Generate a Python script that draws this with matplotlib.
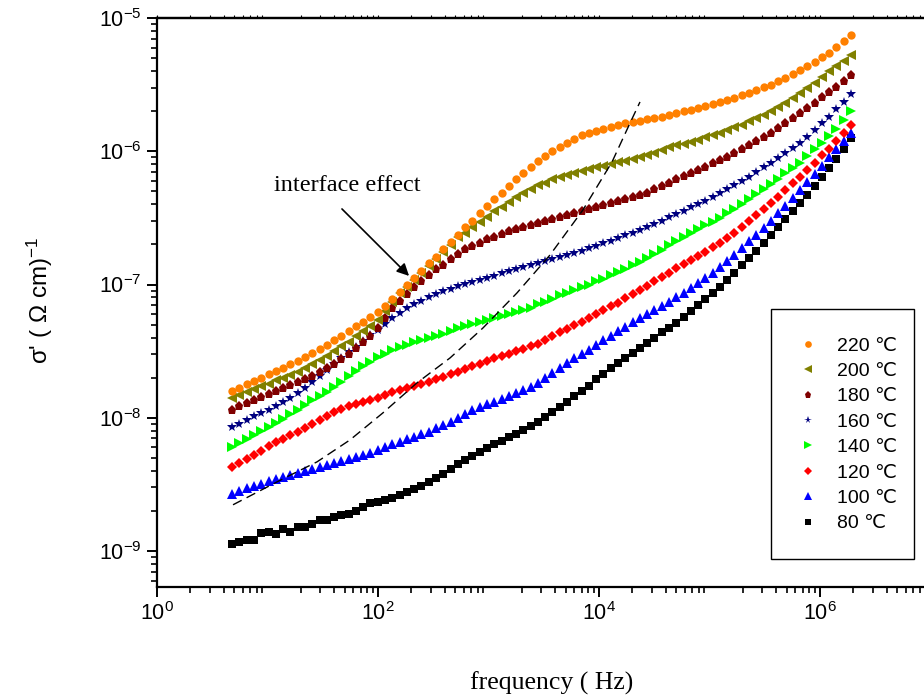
import numpy as np
import matplotlib
matplotlib.use("Agg")
import matplotlib.pyplot as plt
from matplotlib.patches import Rectangle
from matplotlib.lines import Line2D
from matplotlib.ticker import LogLocator, NullFormatter

plt.rcParams['font.family'] = ['Liberation Sans', 'DejaVu Sans']
plt.rcParams['mathtext.fontset'] = 'custom'
plt.rcParams['mathtext.rm'] = 'Liberation Sans'
plt.rcParams['mathtext.it'] = 'Liberation Sans:italic'
plt.rcParams['mathtext.bf'] = 'Liberation Sans:bold'
plt.rcParams['mathtext.sf'] = 'Liberation Sans'

# frequency sweep grid (log-spaced measurement points), Hz
freq = np.logspace(0.68, 6.28, 86)

# log10(sigma') for each temperature
log_s220 = [-7.80, -7.775, -7.75, -7.725, -7.70, -7.675, -7.65, -7.625, -7.60, -7.575,
            -7.545, -7.515, -7.485, -7.455, -7.42, -7.385, -7.35, -7.315, -7.28, -7.245,
            -7.21, -7.165, -7.11, -7.055, -7.00, -6.95, -6.895, -6.84, -6.79, -6.735,
            -6.68, -6.625, -6.57, -6.52, -6.465, -6.41, -6.36, -6.31, -6.26, -6.21,
            -6.165, -6.12, -6.075, -6.035, -6.00, -5.965, -5.935, -5.905, -5.88, -5.86,
            -5.845, -5.83, -5.815, -5.805, -5.79, -5.78, -5.77, -5.76, -5.75, -5.74,
            -5.725, -5.715, -5.70, -5.69, -5.675, -5.66, -5.645, -5.63, -5.615, -5.60,
            -5.58, -5.56, -5.54, -5.52, -5.50, -5.475, -5.45, -5.42, -5.39, -5.36,
            -5.33, -5.295, -5.26, -5.22, -5.175, -5.13]
log_s200 = [-7.85, -7.83, -7.81, -7.785, -7.765, -7.745, -7.72, -7.70, -7.68, -7.655,
            -7.625, -7.595, -7.565, -7.535, -7.50, -7.465, -7.43, -7.39, -7.35, -7.31,
            -7.265, -7.20, -7.13, -7.065, -7.015, -6.965, -6.91, -6.86, -6.81, -6.755,
            -6.70, -6.645, -6.61, -6.57, -6.53, -6.49, -6.45, -6.415, -6.38, -6.345,
            -6.315, -6.285, -6.255, -6.235, -6.21, -6.19, -6.175, -6.16, -6.15, -6.135,
            -6.12, -6.11, -6.095, -6.08, -6.07, -6.055, -6.04, -6.025, -6.01, -5.99,
            -5.97, -5.955, -5.945, -5.93, -5.915, -5.895, -5.875, -5.86, -5.84, -5.82,
            -5.80, -5.775, -5.75, -5.725, -5.70, -5.67, -5.64, -5.60, -5.565, -5.525,
            -5.485, -5.44, -5.395, -5.36, -5.32, -5.28]
log_s180 = [-7.94, -7.915, -7.89, -7.87, -7.845, -7.82, -7.80, -7.775, -7.755, -7.735,
            -7.71, -7.685, -7.655, -7.625, -7.595, -7.56, -7.52, -7.48, -7.435, -7.385,
            -7.33, -7.25, -7.18, -7.12, -7.07, -7.02, -6.97, -6.925, -6.885, -6.85,
            -6.81, -6.77, -6.735, -6.71, -6.685, -6.66, -6.64, -6.62, -6.60, -6.58,
            -6.565, -6.55, -6.535, -6.52, -6.505, -6.49, -6.48, -6.465, -6.45, -6.435,
            -6.42, -6.405, -6.39, -6.375, -6.36, -6.345, -6.33, -6.31, -6.285, -6.26,
            -6.235, -6.21, -6.185, -6.165, -6.14, -6.115, -6.09, -6.065, -6.04, -6.01,
            -5.985, -5.955, -5.925, -5.895, -5.86, -5.825, -5.79, -5.75, -5.71, -5.675,
            -5.635, -5.595, -5.555, -5.515, -5.475, -5.43]
log_s160 = [-8.07, -8.045, -8.02, -7.99, -7.965, -7.94, -7.91, -7.88, -7.85, -7.815,
            -7.775, -7.735, -7.69, -7.645, -7.60, -7.555, -7.51, -7.47, -7.425, -7.38,
            -7.34, -7.30, -7.255, -7.215, -7.18, -7.15, -7.12, -7.095, -7.07, -7.05,
            -7.03, -7.01, -6.995, -6.98, -6.965, -6.95, -6.935, -6.915, -6.90, -6.885,
            -6.865, -6.85, -6.835, -6.82, -6.805, -6.79, -6.775, -6.76, -6.745, -6.725,
            -6.71, -6.69, -6.67, -6.65, -6.63, -6.61, -6.59, -6.57, -6.545, -6.52,
            -6.495, -6.47, -6.445, -6.42, -6.395, -6.37, -6.34, -6.31, -6.28, -6.25,
            -6.22, -6.19, -6.155, -6.12, -6.085, -6.05, -6.015, -5.975, -5.935, -5.89,
            -5.84, -5.79, -5.74, -5.685, -5.63, -5.57]
log_s140 = [-8.22, -8.19, -8.16, -8.13, -8.10, -8.07, -8.04, -8.01, -7.975, -7.94,
            -7.905, -7.87, -7.84, -7.805, -7.77, -7.73, -7.69, -7.65, -7.615, -7.58,
            -7.545, -7.52, -7.495, -7.47, -7.455, -7.435, -7.42, -7.40, -7.385, -7.37,
            -7.35, -7.33, -7.31, -7.30, -7.285, -7.27, -7.255, -7.24, -7.225, -7.21,
            -7.19, -7.175, -7.15, -7.13, -7.105, -7.08, -7.06, -7.04, -7.02, -7.00,
            -6.975, -6.955, -6.93, -6.905, -6.88, -6.855, -6.83, -6.80, -6.77, -6.74,
            -6.705, -6.67, -6.64, -6.61, -6.58, -6.555, -6.53, -6.50, -6.465, -6.43,
            -6.395, -6.36, -6.32, -6.285, -6.245, -6.205, -6.165, -6.125, -6.085, -6.035,
            -5.985, -5.935, -5.885, -5.83, -5.765, -5.70]
log_s120 = [-8.37, -8.34, -8.31, -8.28, -8.25, -8.215, -8.185, -8.16, -8.13, -8.105,
            -8.08, -8.05, -8.02, -7.99, -7.96, -7.935, -7.915, -7.90, -7.88, -7.865,
            -7.85, -7.83, -7.81, -7.79, -7.775, -7.76, -7.745, -7.73, -7.71, -7.695,
            -7.675, -7.655, -7.635, -7.615, -7.595, -7.575, -7.55, -7.535, -7.52, -7.50,
            -7.485, -7.465, -7.445, -7.42, -7.39, -7.36, -7.335, -7.305, -7.28, -7.25,
            -7.22, -7.195, -7.165, -7.135, -7.10, -7.07, -7.04, -7.01, -6.975, -6.945,
            -6.91, -6.875, -6.845, -6.815, -6.785, -6.755, -6.72, -6.69, -6.65, -6.61,
            -6.57, -6.525, -6.48, -6.435, -6.39, -6.34, -6.29, -6.24, -6.19, -6.14,
            -6.085, -6.03, -5.98, -5.92, -5.86, -5.80]
log_s100 = [-8.57, -8.55, -8.53, -8.51, -8.495, -8.475, -8.46, -8.445, -8.43, -8.415,
            -8.40, -8.385, -8.37, -8.355, -8.34, -8.325, -8.31, -8.295, -8.28, -8.265,
            -8.24, -8.22, -8.20, -8.18, -8.16, -8.145, -8.125, -8.105, -8.08, -8.055,
            -8.03, -8.00, -7.97, -7.945, -7.92, -7.90, -7.88, -7.86, -7.84, -7.815,
            -7.79, -7.77, -7.74, -7.705, -7.665, -7.625, -7.59, -7.555, -7.525, -7.49,
            -7.455, -7.42, -7.385, -7.35, -7.32, -7.285, -7.25, -7.22, -7.19, -7.16,
            -7.13, -7.095, -7.06, -7.025, -6.985, -6.95, -6.91, -6.87, -6.825, -6.775,
            -6.725, -6.675, -6.625, -6.575, -6.52, -6.465, -6.41, -6.35, -6.29, -6.23,
            -6.17, -6.11, -6.045, -5.985, -5.92, -5.86]
log_s80 = [-8.95, -8.93, -8.915, -8.915, -8.865, -8.855, -8.875, -8.835, -8.855, -8.82,
           -8.82, -8.795, -8.765, -8.765, -8.745, -8.73, -8.72, -8.70, -8.67, -8.64,
           -8.635, -8.62, -8.60, -8.58, -8.56, -8.535, -8.51, -8.485, -8.455, -8.42,
           -8.385, -8.35, -8.32, -8.29, -8.26, -8.23, -8.20, -8.175, -8.145, -8.12,
           -8.095, -8.065, -8.03, -7.995, -7.96, -7.92, -7.88, -7.84, -7.80, -7.765,
           -7.71, -7.67, -7.63, -7.59, -7.55, -7.515, -7.475, -7.44, -7.40, -7.36,
           -7.325, -7.29, -7.245, -7.20, -7.155, -7.11, -7.065, -7.02, -6.965, -6.91,
           -6.855, -6.80, -6.75, -6.69, -6.63, -6.57, -6.51, -6.45, -6.39, -6.325,
           -6.26, -6.19, -6.125, -6.055, -5.98, -5.90]

# guide (dashed) curve: log10(f), log10(sigma)
guide_logf = [0.688, 1.140, 1.448, 1.747, 2.045, 2.353, 2.652, 2.950, 3.258, 3.557, 3.855, 4.118, 4.281, 4.371]
guide_logs = [-8.653, -8.458, -8.331, -8.166, -7.963, -7.738, -7.551, -7.326, -7.063, -6.778, -6.440, -6.080, -5.788, -5.630]

labels = ["220 \u2103", "200 \u2103", "180 \u2103", "160 \u2103", "140 \u2103", "120 \u2103", "100 \u2103", "80 \u2103"]
series = [log_s220, log_s200, log_s180, log_s160, log_s140, log_s120, log_s100, log_s80]
colors = ["#FF8000", "#808000", "#800000", "#000080", "#00FF00", "#FF0000", "#0000FF", "#000000"]
markers = ["o", "<", "p", "*", ">", "D", "^", "s"]
msizes = [6.0, 6.5, 6.5, 7.0, 6.5, 5.0, 6.5, 5.5]

W, H = 924, 700
fig = plt.figure(figsize=(W / 100, H / 100), dpi=100)
ax = fig.add_axes([157 / W, 113 / H, (930.5 - 157) / W, 569 / H])

for lab, s, c, m, ms in reversed(list(zip(labels, series, colors, markers, msizes))):
    ax.plot(freq, 10 ** np.array(s), linestyle="none", marker=m, color=c,
            markersize=ms, markeredgewidth=0)

ax.plot(10 ** np.array(guide_logf), 10 ** np.array(guide_logs), color="black",
        linestyle=(0, (7, 4)), linewidth=1.0)

ax.set_xscale("log")
ax.set_yscale("log")
ax.set_xlim(1, 1e7)
ax.set_ylim(10 ** -9.27, 1e-5)

ax.set_xticks([1, 1e2, 1e4, 1e6])
ax.xaxis.set_minor_locator(LogLocator(base=10, subs=np.arange(2, 10), numticks=50))
ax.xaxis.set_minor_formatter(NullFormatter())
ax.set_yticks([1e-9, 1e-8, 1e-7, 1e-6, 1e-5])
ax.yaxis.set_minor_locator(LogLocator(base=10, subs=np.arange(2, 10), numticks=50))
ax.yaxis.set_minor_formatter(NullFormatter())

for sp in ax.spines.values():
    sp.set_linewidth(1.6)
ax.tick_params(which="major", direction="out", length=7, width=1.4, labelsize=15.5, pad=4)
ax.tick_params(which="minor", direction="out", length=4, width=1.2)

sec = ax.secondary_xaxis("top")
sec.set_xticks([1, 1e2, 1e4, 1e6])
sec.xaxis.set_minor_locator(LogLocator(base=10, subs=np.arange(2, 10), numticks=50))
sec.tick_params(which="both", direction="out", length=2.5, width=0.8, labeltop=False)
sec.xaxis.set_major_formatter(NullFormatter())
sec.xaxis.set_minor_formatter(NullFormatter())
sec.spines["top"].set_linewidth(1.6)

ax.set_xlabel("frequency ( Hz)", family=["Liberation Serif"], fontsize=18.5)
ax.xaxis.label.set_va("center")
ax.xaxis.set_label_coords((552 - 157) / 773.5, (587 - 683) / 569)
ax.set_ylabel("\u03c3' ( \u03a9 cm)$^{-1}$", fontsize=17.5)
ax.yaxis.label.set_va("center")
ax.yaxis.set_label_coords((40 - 157) / 773.5, (587 - 300) / 569)

ax.annotate("", xy=(191, 1.16e-7), xytext=(47.2, 3.69e-7),
            arrowprops=dict(arrowstyle="-|>", color="black", lw=1.2,
                            mutation_scale=18, shrinkA=0, shrinkB=0))
ax.text(52.4, 5.58e-7, "interface effect", family=["Liberation Serif"], fontsize=17.5,
        ha="center", va="center")

# legend box
fig.patches.append(Rectangle((771 / W, 1 - 559 / H), (914 - 771) / W, (559 - 309) / H,
                             transform=fig.transFigure, fill=False, edgecolor="black",
                             linewidth=1.0))
handles = [Line2D([], [], linestyle="none", marker=m, color=c, markersize=ms * 0.8,
                  markeredgewidth=0) for c, m, ms in zip(colors, markers, msizes)]
leg = fig.legend(handles, labels, loc="upper left",
                 bbox_to_anchor=(798 / W, 1 - 337 / H), bbox_transform=fig.transFigure,
                 frameon=False, prop={"family": ["Liberation Sans", "DejaVu Sans"], "size": 14},
                 handlelength=1.0, handletextpad=1.0, labelspacing=0.40, borderpad=0,
                 borderaxespad=0)

fig.savefig("out.png", dpi=100)
